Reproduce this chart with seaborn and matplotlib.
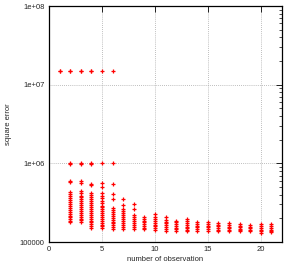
import pandas as pd
import matplotlib
matplotlib.use("Agg")
import matplotlib.pyplot as plt
import matplotlib.ticker as mticker
import seaborn as sns

# square error per number of observation
err_1 = [1.5e7, 1.48e7]
err_2 = [1.5e7, 1.48e7, 1.0e6, 0.98e6, 6.0e5, 5.8e5, 4.3e5, 4.05e5, 3.8e5, 3.6e5, 3.4e5, 3.2e5,
         3.0e5, 2.85e5, 2.7e5, 2.55e5, 2.4e5, 2.28e5, 2.15e5, 2.05e5, 1.95e5, 1.85e5, 1.8e5]
err_3 = [1.5e7, 1.48e7, 1.0e6, 0.98e6, 5.9e5, 5.7e5, 4.4e5, 4.15e5, 3.9e5, 3.7e5, 3.5e5, 3.3e5,
         3.1e5, 2.95e5, 2.8e5, 2.62e5, 2.48e5, 2.35e5, 2.22e5, 2.1e5, 1.98e5, 1.88e5, 1.8e5]
err_4 = [1.5e7, 1.48e7, 1.0e6, 0.98e6, 5.5e5, 5.3e5, 4.2e5, 3.95e5, 3.75e5, 3.55e5, 3.35e5, 3.15e5,
         2.97e5, 2.8e5, 2.65e5, 2.5e5, 2.36e5, 2.23e5, 2.1e5, 1.98e5, 1.87e5, 1.77e5, 1.67e5,
         1.58e5, 1.5e5]
err_5 = [1.5e7, 1.0e6, 5.6e5, 5.0e5, 4.2e5, 3.9e5, 3.6e5, 3.3e5, 3.1e5, 2.9e5, 2.75e5, 2.6e5,
         2.45e5, 2.32e5, 2.2e5, 2.08e5, 1.97e5, 1.86e5, 1.76e5, 1.66e5, 1.58e5, 1.5e5]
err_6 = [1.5e7, 1.0e6, 5.5e5, 4.1e5, 3.5e5, 2.7e5, 2.55e5, 2.4e5, 2.27e5, 2.15e5, 2.03e5, 1.92e5,
         1.82e5, 1.72e5, 1.63e5, 1.54e5, 1.45e5]
err_7 = [3.5e5, 2.95e5, 2.6e5, 2.45e5, 2.32e5, 2.2e5, 2.08e5, 1.97e5, 1.86e5, 1.76e5, 1.66e5,
         1.57e5, 1.48e5]
err_8 = [3.0e5, 2.6e5, 2.2e5, 2.08e5, 1.97e5, 1.86e5, 1.76e5, 1.66e5, 1.57e5, 1.48e5]
err_9 = [2.1e5, 1.98e5, 1.87e5, 1.77e5, 1.67e5, 1.58e5, 1.5e5, 1.45e5]
err_10 = [2.3e5, 2.1e5, 1.95e5, 1.85e5, 1.75e5, 1.66e5, 1.58e5, 1.5e5, 1.42e5]
err_11 = [2.05e5, 1.93e5, 1.82e5, 1.72e5, 1.63e5, 1.55e5, 1.47e5, 1.4e5]
err_12 = [1.87e5, 1.77e5, 1.68e5, 1.6e5, 1.52e5, 1.45e5, 1.4e5]
err_13 = [1.96e5, 1.85e5, 1.75e5, 1.66e5, 1.57e5, 1.49e5, 1.42e5, 1.36e5]
err_14 = [1.8e5, 1.71e5, 1.62e5, 1.54e5, 1.47e5, 1.4e5]
err_15 = [1.8e5, 1.71e5, 1.62e5, 1.54e5, 1.46e5, 1.38e5]
err_16 = [1.75e5, 1.66e5, 1.58e5, 1.5e5, 1.43e5, 1.38e5]
err_17 = [1.74e5, 1.65e5, 1.57e5, 1.49e5, 1.42e5, 1.36e5]
err_18 = [1.7e5, 1.62e5, 1.54e5, 1.47e5, 1.41e5, 1.36e5]
err_19 = [1.65e5, 1.57e5, 1.5e5, 1.43e5, 1.36e5]
err_20 = [1.68e5, 1.59e5, 1.51e5, 1.44e5, 1.37e5, 1.3e5]
err_21 = [1.68e5, 1.59e5, 1.51e5, 1.44e5, 1.38e5, 1.33e5]

columnas = [err_1, err_2, err_3, err_4, err_5, err_6, err_7, err_8, err_9, err_10, err_11,
            err_12, err_13, err_14, err_15, err_16, err_17, err_18, err_19, err_20, err_21]

x_ticks = [0, 5, 10, 15, 20]
y_ticks = [1e5, 1e6, 1e7, 1e8]
y_tick_labels = ["100000", "1e+06", "1e+07", "1e+08"]

filas = []
for n, errores in enumerate(columnas, start=1):
    for e in errores:
        filas.append({"obs": n, "err": e})
df = pd.DataFrame(filas)

sns.set_style("white")
plt.rcParams["font.family"] = ["Liberation Sans", "DejaVu Sans"]

fig = plt.figure(figsize=(2.88, 2.64), dpi=100)
ax = fig.add_axes([49 / 288, 22 / 264, 233 / 288, 236 / 264])

sns.scatterplot(data=df, x="obs", y="err", marker="+", color="#ff0000",
                s=11, linewidth=0.9, ax=ax, zorder=3)

ax.set_yscale("log")
ax.set_xlim(0, 22)
ax.set_ylim(1e5, 1e8)
ax.set_xticks(x_ticks)
ax.set_yticks(y_ticks)
ax.set_yticklabels(y_tick_labels)
ax.yaxis.set_minor_locator(mticker.LogLocator(base=10, subs=range(2, 10)))
ax.yaxis.set_minor_formatter(mticker.NullFormatter())

ax.grid(True, which="major", color="#a8a8a8", linestyle=(0, (1, 1.5)), linewidth=0.6)
ax.tick_params(which="both", direction="in", top=True, right=True, labelsize=5.5,
               color="black", pad=3)
ax.tick_params(which="major", length=4, width=0.6)
ax.tick_params(which="minor", length=2, width=0.5)
for s in ax.spines.values():
    s.set_color("black")
    s.set_linewidth(0.9)

ax.set_xlabel("number of observation", fontsize=5.5, labelpad=2)
ax.set_ylabel("square error", fontsize=5.5, labelpad=6)

plt.savefig("out.png", dpi=100)
plt.close()
